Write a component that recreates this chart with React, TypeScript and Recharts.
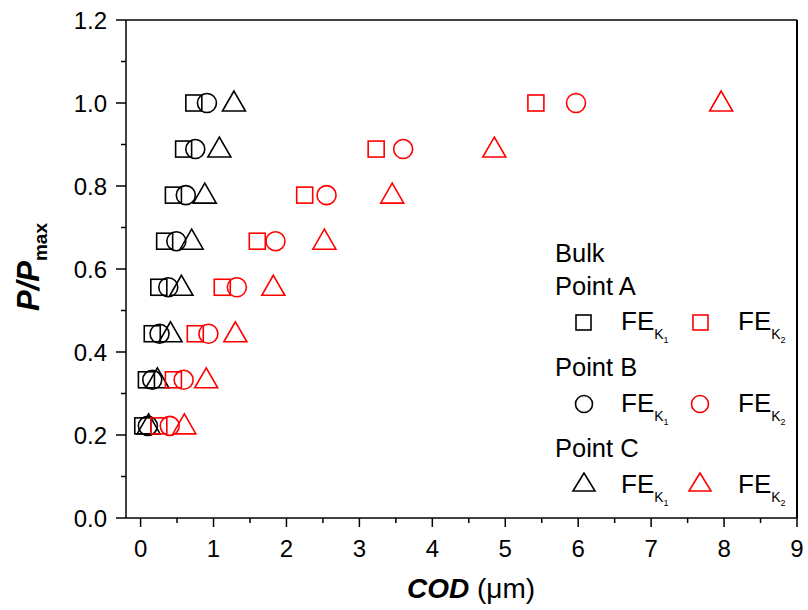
import React from 'react';
import { ScatterChart, Scatter, XAxis, YAxis, ReferenceLine } from 'recharts';

// Load levels (P/Pmax)
const loadLevels = [0.222, 0.333, 0.444, 0.556, 0.667, 0.778, 0.889, 1.0];
// COD values (µm) for each point / fracture energy model
const pointA_K1 = [0.03, 0.08, 0.16, 0.25, 0.33, 0.45, 0.59, 0.73];
const pointA_K2 = [0.25, 0.45, 0.75, 1.12, 1.60, 2.25, 3.23, 5.42];
const pointB_K1 = [0.10, 0.16, 0.26, 0.38, 0.49, 0.62, 0.75, 0.91];
const pointB_K2 = [0.40, 0.59, 0.93, 1.32, 1.85, 2.55, 3.60, 5.97];
const pointC_K1 = [0.11, 0.23, 0.41, 0.56, 0.70, 0.88, 1.08, 1.28];
const pointC_K2 = [0.60, 0.90, 1.30, 1.82, 2.52, 3.45, 4.85, 7.96];

const xTicks = [0, 0.5, 1, 1.5, 2, 2.5, 3, 3.5, 4, 4.5, 5, 5.5, 6, 6.5, 7, 7.5, 8, 8.5, 9];
const yTicks = [0, 0.1, 0.2, 0.3, 0.4, 0.5, 0.6, 0.7, 0.8, 0.9, 1.0, 1.1, 1.2];

const FONT = 'Arial, "Liberation Sans", Helvetica, sans-serif';
const RED = '#ff0000';
const BLACK = '#000000';

const toData = (xs: number[]) => xs.map((x, i) => ({ x, y: loadLevels[i] }));

const makeSquare = (color: string, s = 16) => (p: any) => (
  <rect x={p.cx - s / 2} y={p.cy - s / 2} width={s} height={s} fill="none" stroke={color} strokeWidth={1.6} />
);
const makeCircle = (color: string, r = 9.5) => (p: any) => (
  <circle cx={p.cx} cy={p.cy} r={r} fill="none" stroke={color} strokeWidth={1.6} />
);
const makeTriangle = (color: string, w = 23, up = 12, down = 8) => (p: any) => (
  <polygon
    points={`${p.cx},${p.cy - up} ${p.cx - w / 2},${p.cy + down} ${p.cx + w / 2},${p.cy + down}`}
    fill="none"
    stroke={color}
    strokeWidth={1.6}
    strokeLinejoin="miter"
  />
);

const isMajor = (v: number, step: number) => Math.abs(v / step - Math.round(v / step)) < 1e-6;

const YTick = (props: any) => {
  const { x, y, payload } = props;
  const v = payload.value as number;
  const major = isMajor(v, 0.2);
  return (
    <g>
      <line x1={x} x2={x - (major ? 10 : 5)} y1={y} y2={y} stroke={BLACK} strokeWidth={1.5} />
      {major && (
        <text x={x - 19} y={y} dy="0.36em" textAnchor="end" fontFamily={FONT} fontSize={24} fill={BLACK}>
          {v.toFixed(1)}
        </text>
      )}
    </g>
  );
};

const XTick = (props: any) => {
  const { x, y, payload } = props;
  const v = payload.value as number;
  const major = isMajor(v, 1);
  return (
    <g>
      <line x1={x} x2={x} y1={y} y2={y + (major ? 9 : 5)} stroke={BLACK} strokeWidth={1.5} />
      {major && (
        <text x={x} y={y + 39} textAnchor="middle" fontFamily={FONT} fontSize={24} fill={BLACK}>
          {String(v)}
        </text>
      )}
    </g>
  );
};

const LegendFE = ({ x, y, sub }: { x: number; y: number; sub: string }) => (
  <text x={x} y={y} fontFamily={FONT} fill={BLACK} fontSize={26}>
    FE
    <tspan fontSize={14} dy={9}>K</tspan>
    <tspan fontSize={9} dy={4}>{sub}</tspan>
  </text>
);

const LegendLabel = ({ y, children }: { y: number; children: React.ReactNode }) => (
  <text x={555} y={y} fontFamily={FONT} fontSize={25.5} fill={BLACK}>{children}</text>
);

export default function App() {
  return (
    <div style={{ position: 'absolute', left: 0, top: 0, width: 808, height: 610, background: '#fff' }}>
      <ScatterChart width={808} height={610} margin={{ top: 20, right: 11, bottom: 52, left: 66 }}>
        <XAxis
          type="number"
          dataKey="x"
          domain={[-0.2, 9]}
          ticks={xTicks}
          interval={0}
          allowDataOverflow
          height={40}
          tickSize={0}
          tickMargin={0}
          tickLine={false}
          axisLine={{ stroke: BLACK, strokeWidth: 1.5 }}
          tick={<XTick />}
        />
        <YAxis
          type="number"
          dataKey="y"
          domain={[0, 1.2]}
          ticks={yTicks}
          interval={0}
          allowDataOverflow
          width={60}
          tickSize={0}
          tickMargin={0}
          tickLine={false}
          axisLine={{ stroke: BLACK, strokeWidth: 1.5 }}
          tick={<YTick />}
        />
        <ReferenceLine y={1.2} stroke={BLACK} strokeWidth={1.5} ifOverflow="extendDomain" />
        <ReferenceLine x={9} stroke={BLACK} strokeWidth={2} ifOverflow="extendDomain" />
        <Scatter data={toData(pointA_K1)} shape={makeSquare(BLACK)} isAnimationActive={false} />
        <Scatter data={toData(pointB_K1)} shape={makeCircle(BLACK)} isAnimationActive={false} />
        <Scatter data={toData(pointC_K1)} shape={makeTriangle(BLACK)} isAnimationActive={false} />
        <Scatter data={toData(pointA_K2)} shape={makeSquare(RED)} isAnimationActive={false} />
        <Scatter data={toData(pointB_K2)} shape={makeCircle(RED)} isAnimationActive={false} />
        <Scatter data={toData(pointC_K2)} shape={makeTriangle(RED)} isAnimationActive={false} />
      </ScatterChart>
      <svg width={808} height={610} style={{ position: 'absolute', left: 0, top: 0, pointerEvents: 'none' }}>
        {/* Axis titles */}
        <text x={471} y={598} textAnchor="middle" fontFamily={FONT} fontSize={28} fill={BLACK}>
          <tspan fontWeight="bold" fontStyle="italic">COD</tspan>
          <tspan> (μm)</tspan>
        </text>
        <g transform="translate(39,267) rotate(-90)">
          <text x={0} y={0} textAnchor="middle" fontFamily={FONT} fontSize={31} fill={BLACK} fontWeight="bold">
            <tspan fontStyle="italic">P/P</tspan>
            <tspan fontSize={19} dy={8}>max</tspan>
          </text>
        </g>
        {/* Legend */}
        <LegendLabel y={262}>Bulk</LegendLabel>
        <LegendLabel y={295}>Point A</LegendLabel>
        <rect x={576} y={315} width={15} height={15} fill="none" stroke={BLACK} strokeWidth={1.6} />
        <LegendFE x={621} y={330} sub="1" />
        <rect x={693} y={315} width={15} height={15} fill="none" stroke={RED} strokeWidth={1.6} />
        <LegendFE x={738} y={330} sub="2" />
        <LegendLabel y={376}>Point B</LegendLabel>
        <circle cx={584} cy={404} r={8.5} fill="none" stroke={BLACK} strokeWidth={1.6} />
        <LegendFE x={621} y={412} sub="1" />
        <circle cx={700} cy={404} r={8.5} fill="none" stroke={RED} strokeWidth={1.6} />
        <LegendFE x={738} y={412} sub="2" />
        <LegendLabel y={457}>Point C</LegendLabel>
        <polygon points="584,473 573,491 595,491" fill="none" stroke={BLACK} strokeWidth={1.6} />
        <LegendFE x={621} y={493} sub="1" />
        <polygon points="700,473 689,491 711,491" fill="none" stroke={RED} strokeWidth={1.6} />
        <LegendFE x={738} y={493} sub="2" />
      </svg>
    </div>
  );
}
